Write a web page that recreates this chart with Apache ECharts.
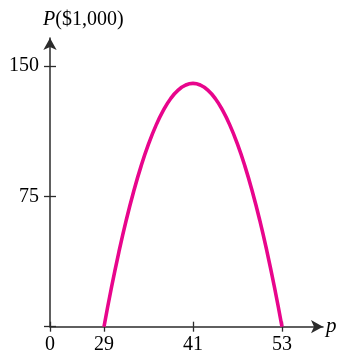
<!DOCTYPE html>
<html><head><meta charset="utf-8">
<script src="https://cdn.jsdelivr.net/npm/echarts@6/dist/echarts.min.js"></script>
<style>html,body{margin:0;padding:0;background:#fff}#c{width:343px;height:352px}</style>
</head><body><div id="c"></div>
<script>
var prices = [29,30,31,32,33,34,35,36,37,38,39,40,41,42,43,44,45,46,47,48,49,50,51,52,53];
var profits = [0,22.4,42.8,61.3,77.8,92.4,105,115.7,124.4,131.3,136.1,139,140,139,136.1,131.3,124.4,115.7,105,92.4,77.8,61.3,42.8,22.4,0];
var xTicks = [29,41,53];
var yTicks = [75,150];
var xOrigin = 21.72, xMax = 58.53, yMax = 166.1;

var font = 'Liberation Serif';
var axisColor = '#2b2b2b';
var chart = echarts.init(document.getElementById('c'));
var grid = {left:50, right:20, top:38, bottom:25.3, containLabel:false, outerBoundsMode:'none'};
function xAx(primary){
  return {type:'value', min:xOrigin, max:xMax, gridIndex:0, position:'bottom', offset:0,
    name: primary ? 'p' : '', nameLocation:'end', nameGap:3,
    nameTextStyle:{fontFamily:font, fontSize:21, fontStyle:'italic', color:'#000', verticalAlign:'middle', padding:[0,0,2,0]},
    axisLine:{show:primary, onZero:false, symbol:['none','arrow'], symbolSize:[10,12], lineStyle:{color:axisColor, width:1.5}},
    axisTick:{show:true, inside:!primary, length:5, customValues:[xOrigin].concat(xTicks), lineStyle:{color:axisColor, width:1.3}},
    axisLabel:{show:primary, margin:8, customValues:[xOrigin].concat(xTicks), fontFamily:font, fontSize:20, color:'#000',
      formatter:function(v){return Math.abs(v-xOrigin)<1e-6 ? '0' : String(Math.round(v));}},
    splitLine:{show:false}};
}
function yAx(primary){
  return {type:'value', min:0, max:yMax, gridIndex:0, position:'left', offset:0,
    axisLine:{show:primary, onZero:false, symbol:['none','arrow'], symbolSize:[10,12], lineStyle:{color:axisColor, width:1.5}},
    axisTick:{show:true, inside:!primary, length:6, customValues:[0].concat(yTicks), lineStyle:{color:axisColor, width:1.3}},
    axisLabel:{show:primary, margin:11, customValues:yTicks, fontFamily:font, fontSize:20, color:'#000', padding:[5,0,0,0]},
    splitLine:{show:false}};
}
var data = prices.map(function(p,i){return [p, profits[i]];});
chart.setOption({
  animation:false,
  grid:grid,
  xAxis:[xAx(true), xAx(false)],
  yAxis:[yAx(true), yAx(false)],
  graphic:[{type:'text', left:43, top:10, style:{
    text:'{i|P}($1,000)', fontFamily:font, fontSize:20, fill:'#000',
    rich:{i:{fontStyle:'italic', fontFamily:font, fontSize:20, fill:'#000'}}}}],
  series:[{type:'line', data:data, smooth:true, showSymbol:false, xAxisIndex:0, yAxisIndex:0,
    lineStyle:{color:'#E8058C', width:3.6}, z:1}]
});
</script></body></html>
